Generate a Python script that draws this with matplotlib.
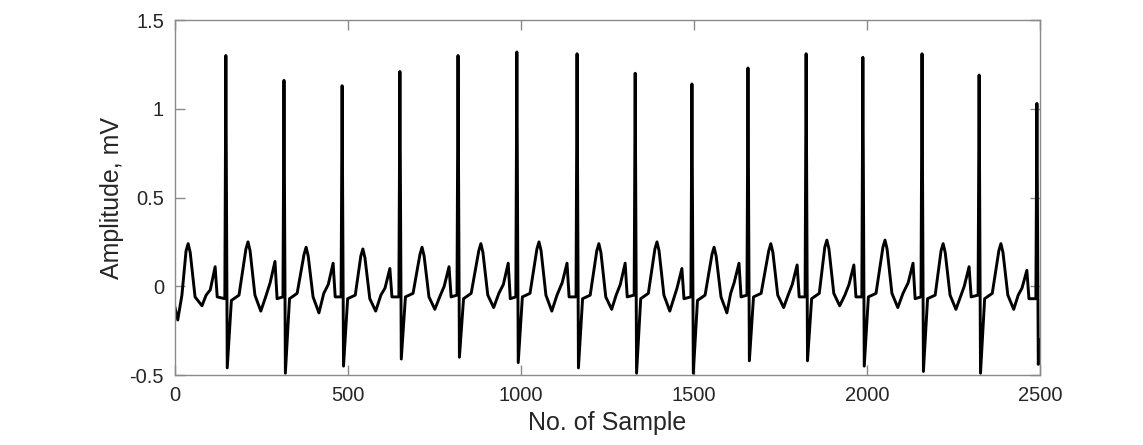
import numpy as np
import matplotlib
matplotlib.use('Agg')
import matplotlib.pyplot as plt

plt.rcParams['font.family'] = ['Liberation Sans', 'DejaVu Sans']

# landmark points of the ECG trace (sample no., mV)
start_x = [0, 8, 20]
start_y = [-0.12, -0.19, -0.05]
end_x = [2500]
end_y = [-0.30]

# baseline just before each R
q_x = [144, 312, 480, 647, 815, 985, 1159, 1327, 1491, 1653, 1821, 1985, 2156, 2321, 2488]
q_y = [-0.07, -0.06, -0.06, -0.06, -0.05, -0.06, -0.06, -0.05, -0.06, -0.05, -0.06, -0.06, -0.06, -0.05, -0.07]
# R peaks
r_x = [147, 315, 483, 650, 818, 988, 1162, 1330, 1494, 1656, 1824, 1988, 2159, 2324, 2491]
r_y = [1.30, 1.16, 1.13, 1.21, 1.30, 1.32, 1.31, 1.20, 1.14, 1.23, 1.31, 1.29, 1.31, 1.19, 1.03]
# S troughs
s_x = [151, 319, 487, 654, 822, 992, 1166, 1334, 1498, 1660, 1828, 1992, 2163, 2328, 2495]
s_y = [-0.46, -0.49, -0.45, -0.41, -0.40, -0.43, -0.46, -0.49, -0.49, -0.42, -0.42, -0.45, -0.48, -0.49, -0.44]
# return to baseline after S
j_x = [163, 331, 499, 666, 834, 1004, 1178, 1346, 1510, 1672, 1840, 2004, 2175, 2340]
j_y = [-0.08, -0.07, -0.07, -0.06, -0.07, -0.06, -0.07, -0.07, -0.08, -0.06, -0.07, -0.06, -0.07, -0.07]
# ST segment
st_x = [185, 353, 521, 688, 856, 1026, 1200, 1368, 1532, 1694, 1862, 2026, 2197, 2362]
st_y = [-0.05, -0.04, -0.05, -0.04, -0.04, -0.04, -0.05, -0.04, -0.05, -0.04, -0.04, -0.04, -0.05, -0.04]
# T waves
t_up_x = [32, 205, 373, 537, 708, 878, 1046, 1219, 1387, 1552, 1716, 1878, 2046, 2214, 2381]
t_up_y = [0.20, 0.21, 0.18, 0.17, 0.18, 0.20, 0.21, 0.20, 0.21, 0.18, 0.20, 0.22, 0.22, 0.20, 0.20]
t_x = [38, 211, 379, 543, 714, 884, 1052, 1225, 1393, 1558, 1722, 1884, 2052, 2220, 2387]
t_y = [0.24, 0.25, 0.22, 0.21, 0.22, 0.24, 0.25, 0.24, 0.25, 0.22, 0.24, 0.26, 0.26, 0.24, 0.24]
t_dn_x = [44, 217, 385, 549, 720, 890, 1058, 1231, 1399, 1564, 1728, 1890, 2058, 2226, 2393]
t_dn_y = [0.19, 0.20, 0.17, 0.16, 0.17, 0.19, 0.20, 0.19, 0.20, 0.17, 0.19, 0.21, 0.21, 0.19, 0.19]
t_off_x = [58, 231, 399, 563, 734, 904, 1072, 1245, 1413, 1578, 1742, 1904, 2072, 2240, 2407]
t_off_y = [-0.06, -0.05, -0.06, -0.07, -0.06, -0.05, -0.05, -0.06, -0.05, -0.06, -0.05, -0.04, -0.04, -0.05, -0.05]
# trough after T
tr_x = [78, 248, 416, 580, 751, 921, 1089, 1262, 1430, 1595, 1759, 1921, 2089, 2257, 2424]
tr_y = [-0.11, -0.14, -0.15, -0.14, -0.13, -0.12, -0.14, -0.13, -0.14, -0.15, -0.12, -0.11, -0.12, -0.13, -0.13]
mid_x = [90, 262, 430, 595, 765, 936, 1104, 1275, 1443, 1606, 1772, 1936, 2104, 2270, 2437]
mid_y = [-0.05, -0.06, -0.04, -0.05, -0.06, -0.04, -0.05, -0.05, -0.06, -0.04, -0.05, -0.05, -0.04, -0.06, -0.05]
# P waves
p_on_x = [102, 275, 443, 607, 778, 949, 1119, 1287, 1451, 1616, 1784, 1948, 2119, 2281, 2448]
p_on_y = [-0.02, 0.02, 0.01, -0.01, 0.00, 0.01, 0.02, 0.01, -0.01, 0.02, 0.01, 0.01, 0.02, 0.00, -0.01]
p_x = [116, 289, 457, 621, 792, 963, 1133, 1301, 1465, 1630, 1798, 1962, 2133, 2295, 2462]
p_y = [0.11, 0.14, 0.13, 0.10, 0.11, 0.13, 0.13, 0.13, 0.10, 0.13, 0.12, 0.12, 0.13, 0.11, 0.09]
p_off_x = [122, 295, 463, 627, 798, 969, 1139, 1307, 1471, 1636, 1804, 1968, 2139, 2301, 2468]
p_off_y = [-0.06, -0.07, -0.06, -0.06, -0.06, -0.07, -0.06, -0.06, -0.07, -0.06, -0.06, -0.06, -0.07, -0.06, -0.07]

xs = np.concatenate([start_x, q_x, r_x, s_x, j_x, st_x, t_up_x, t_x, t_dn_x, t_off_x,
                     tr_x, mid_x, p_on_x, p_x, p_off_x, end_x])
ys = np.concatenate([start_y, q_y, r_y, s_y, j_y, st_y, t_up_y, t_y, t_dn_y, t_off_y,
                     tr_y, mid_y, p_on_y, p_y, p_off_y, end_y])
order = np.argsort(xs, kind='stable')
xs, ys = xs[order], ys[order]

fig = plt.figure(figsize=(11.43, 4.45), dpi=100)
ax = fig.add_axes([0.1531, 0.1573, 0.7568, 0.7977])

ax.plot(xs, ys, color='black', linewidth=2.1, solid_joinstyle='round')

ax.set_xlim(0, 2500)
ax.set_ylim(-0.5, 1.5)
ax.set_xticks([0, 500, 1000, 1500, 2000, 2500])
ax.set_yticks([-0.5, 0, 0.5, 1, 1.5])
ax.set_yticklabels(['-0.5', '0', '0.5', '1', '1.5'])

for sp in ax.spines.values():
    sp.set_color('#8a8a8a')
    sp.set_linewidth(1.0)
ax.tick_params(direction='in', length=7, width=1.0, color='#8a8a8a',
               labelsize=14.5, labelcolor='#262626', top=True, right=True,
               labeltop=False, labelright=False, pad=8)

ax.set_xlabel('No. of Sample', fontsize=18, color='#262626', labelpad=4)
ax.set_ylabel('Amplitude, mV', fontsize=18, color='#262626', labelpad=4)

fig.savefig('out.png', dpi=100)
